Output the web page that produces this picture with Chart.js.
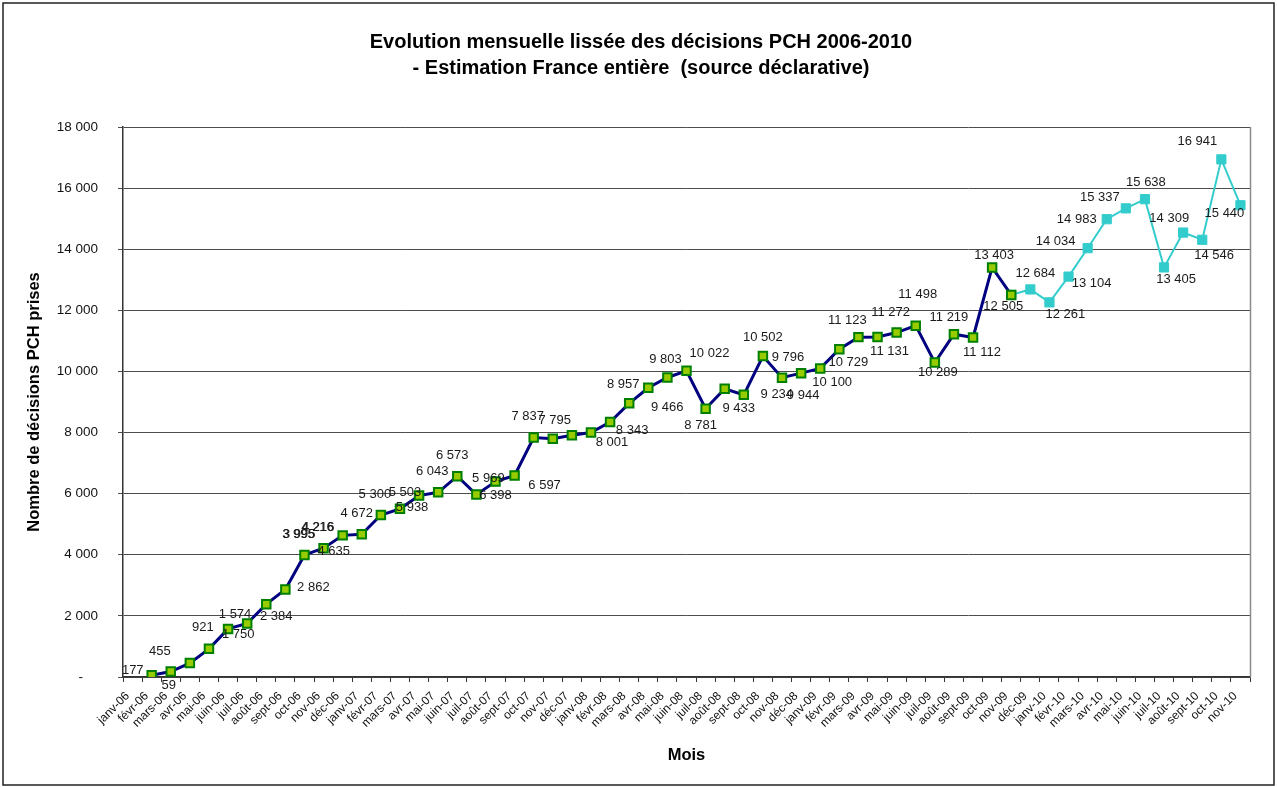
<!DOCTYPE html>
<html>
<head>
<meta charset="utf-8">
<title>Evolution mensuelle lissée des décisions PCH 2006-2010</title>
<script src="https://cdn.jsdelivr.net/npm/chart.js@4.4.1/dist/chart.umd.min.js"></script>
<style>
  html, body { margin: 0; padding: 0; background: #fff; }
  #wrap { position: relative; width: 1277px; height: 787px; }
</style>
</head>
<body>
<div id="wrap"><canvas id="chart" width="1277" height="787"></canvas></div>
<script>
// categories (months)
const months = [
  'janv-06','févr-06','mars-06','avr-06','mai-06','juin-06','juil-06','août-06','sept-06','oct-06','nov-06','déc-06',
  'janv-07','févr-07','mars-07','avr-07','mai-07','juin-07','juil-07','août-07','sept-07','oct-07','nov-07','déc-07',
  'janv-08','févr-08','mars-08','avr-08','mai-08','juin-08','juil-08','août-08','sept-08','oct-08','nov-08','déc-08',
  'janv-09','févr-09','mars-09','avr-09','mai-09','juin-09','juil-09','août-09','sept-09','oct-09','nov-09','déc-09',
  'janv-10','févr-10','mars-10','avr-10','mai-10','juin-10','juil-10','août-10','sept-10','oct-10','nov-10'
];

// decisions 2006 -> nov-09 (navy series)
const decisionsObserved = [
  null, 59, 177, 455, 921, 1574, 1750, 2384, 2862, 3995, 4216, 4635,
  4672, 5300, 5503, 5938, 6043, 6573, 5969, 6398, 6597, 7837, 7795, 7910,
  8001, 8343, 8957, 9466, 9803, 10022, 8781, 9433, 9234, 10502, 9796, 9944,
  10100, 10729, 11123, 11131, 11272, 11498, 10289, 11219, 11112, 13403, 12505, null,
  null, null, null, null, null, null, null, null, null, null, null
];

// decisions nov-09 -> nov-10 (cyan series)
const decisionsRecent = [
  null, null, null, null, null, null, null, null, null, null, null, null,
  null, null, null, null, null, null, null, null, null, null, null, null,
  null, null, null, null, null, null, null, null, null, null, null, null,
  null, null, null, null, null, null, null, null, null, null, 12505, 12684,
  12261, 13104, 14034, 14983, 15337, 15638, 13405, 14546, 14309, 16941, 15440
];

// y axis ticks
const yTicks = [0, 2000, 4000, 6000, 8000, 10000, 12000, 14000, 16000, 18000];

// where each data label sits relative to its point (px), as in the original
const labelOffsets = [
  null, [17, 10], [-38, -1], [-30, -12], [-6, -21], [7, -14], [-9, 11], [10, 12], [28, -2], [-6, -21], [-6, -21], [-9, 16],
  [-5, -21], [-6, -21], [5, -16], [-7, 12], [-6, -21], [-5, -21], [12, -16], [0, 14], [30, 10], [-6, -21], [2, -18], null,
  [21, 10], [22, 8], [-6, -19], [19, 20], [-2, -18], [23, -17], [-5, 17], [14, 20], [33, 0], [0, -19], [6, -20], [2, 22],
  [12, 14], [9, 13], [-11, -17], [12, 15], [-6, -20], [2, -31], [3, 10], [-5, -17], [9, 15], [2, -12], [-8, 12], [5, -16],
  [16, 12], [23, 7], [-32, -7], [-30, 0], [-26, -11], [1, -17], [12, 12], [31, 23], [-33, -21], [-24, -18], [-16, 8]
];
const doubledLabels = [9, 10];

const FONT = "'Liberation Sans', Arial, sans-serif";

function fmt(v) {
  return String(v).replace(/\B(?=(\d{3})+(?!\d))/g, ' ');
}

const pageDecor = {
  id: 'pageDecor',
  beforeDraw(chart) {
    const ctx = chart.ctx;
    ctx.save();
    ctx.fillStyle = '#fff';
    ctx.fillRect(0, 0, chart.width, chart.height);
    ctx.strokeStyle = '#222';
    ctx.lineWidth = 1.5;
    ctx.strokeRect(3, 3, chart.width - 6, chart.height - 5);
    ctx.restore();
  },
  afterDatasetsDraw(chart) {
    const ctx = chart.ctx;
    const a = chart.chartArea;
    const xs = chart.scales.x, ys = chart.scales.y;
    ctx.save();
    // plot area right edge
    ctx.strokeStyle = '#8a8a8a';
    ctx.lineWidth = 1.5;
    ctx.beginPath();
    ctx.moveTo(Math.round(a.right) + 0.5, a.top);
    ctx.lineTo(Math.round(a.right) + 0.5, a.bottom);
    ctx.stroke();

    // data labels
    ctx.font = '13px ' + FONT;
    ctx.fillStyle = '#1a1a1a';
    ctx.textAlign = 'center';
    ctx.textBaseline = 'middle';
    for (let i = 0; i < months.length; i++) {
      const v = decisionsObserved[i] != null ? decisionsObserved[i] : decisionsRecent[i];
      const off = labelOffsets[i];
      if (v == null || !off) continue;
      const x = xs.getPixelForValue(i) + off[0];
      const y = ys.getPixelForValue(v) + off[1];
      ctx.fillText(fmt(v), x, y);
      if (doubledLabels.includes(i)) ctx.fillText(fmt(v), x + 0.7, y);
    }
    ctx.restore();
  }
};

new Chart(document.getElementById('chart'), {
  type: 'line',
  data: {
    labels: months,
    datasets: [{
      label: 'Décisions PCH',
      data: decisionsObserved,
      borderColor: '#000080',
      borderWidth: 3,
      pointStyle: 'rect',
      pointRadius: 6,
      pointBackgroundColor: '#99cc00',
      pointBorderColor: '#008000',
      pointBorderWidth: 2,
      tension: 0,
      spanGaps: false
    }, {
      label: 'Décisions PCH (récent)',
      data: decisionsRecent,
      borderColor: '#33cccc',
      borderWidth: 2,
      pointStyle: 'rect',
      pointRadius: 6.5,
      pointBackgroundColor: '#33cccc',
      pointBorderColor: '#33cccc',
      pointBorderWidth: 1,
      tension: 0
    }]
  },
  options: {
    responsive: false,
    animation: false,
    // left padding keeps the title centred where the original has it
    layout: { padding: { left: 32, right: 27, top: 0, bottom: 0 } },
    plugins: {
      legend: { display: false },
      tooltip: { enabled: false },
      title: {
        display: true,
        text: ['Evolution mensuelle lissée des décisions PCH 2006-2010', '- Estimation France entière  (source déclarative)'],
        color: '#000',
        font: { family: FONT, size: 20, weight: 'bold', lineHeight: 1.3 },
        padding: { top: 29, bottom: 46 }
      }
    },
    scales: {
      x: {
        offset: true,
        grid: { offset: true, drawOnChartArea: false, drawTicks: true, tickLength: 5, color: '#333', lineWidth: 1 },
        border: { color: '#333', width: 1.5 },
        ticks: {
          autoSkip: false, minRotation: 45, maxRotation: 45, padding: 7, labelOffset: -5,
          color: '#111', font: { family: FONT, size: 12 }
        },
        title: {
          display: true, text: 'Mois', color: '#000',
          font: { family: FONT, size: 16.5, weight: 'bold' },
          padding: { top: 0, bottom: 22 }
        },
        afterFit(scale) { scale.height = 110; }
      },
      y: {
        min: 0, max: 18000,
        afterBuildTicks(scale) { scale.ticks = yTicks.map(v => ({ value: v })); },
        grid: { color: '#4d4d4d', lineWidth: 1, tickLength: 5, drawTicks: true },
        border: { color: '#333', width: 1.5 },
        ticks: {
          padding: 20, color: '#111',
          font: { family: FONT, size: 13.5 },
          callback: v => v === 0 ? '-    ' : fmt(v)
        },
        title: {
          display: true, text: 'Nombre de décisions PCH prises', color: '#000',
          font: { family: FONT, size: 16.5, weight: 'bold' },
          padding: { top: -7, bottom: 0 }
        },
        afterFit(scale) { scale.width = 91; }
      }
    }
  },
  plugins: [pageDecor]
});
</script>
</body>
</html>
